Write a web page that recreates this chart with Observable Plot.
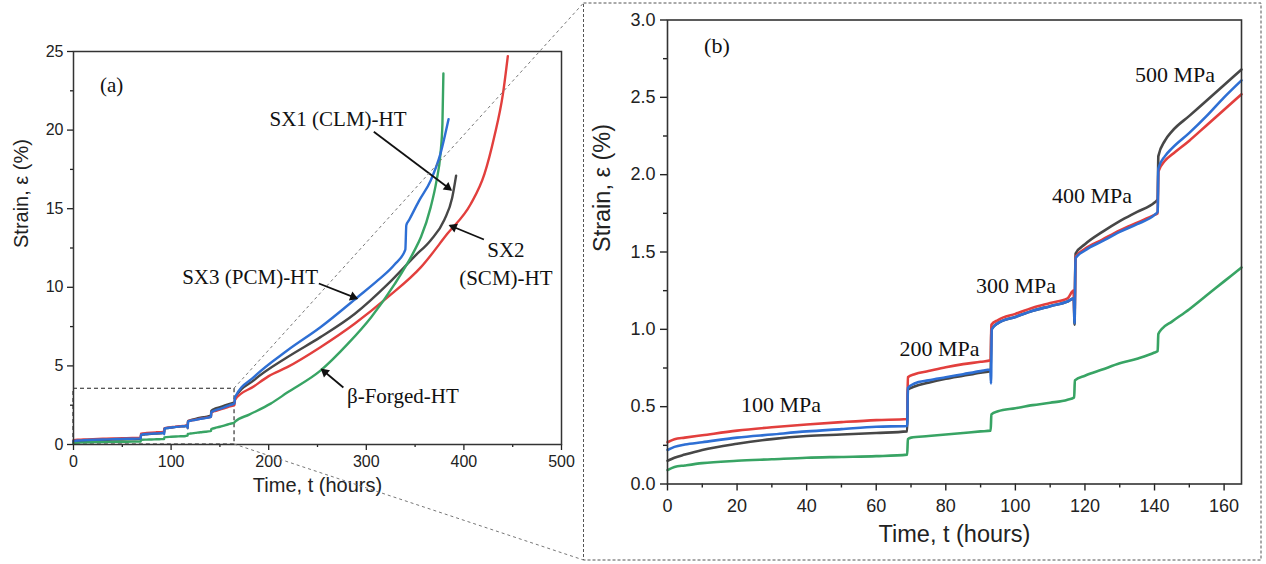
<!DOCTYPE html>
<html><head><meta charset="utf-8">
<script src="https://cdn.jsdelivr.net/npm/d3@7"></script>
<script src="https://cdn.jsdelivr.net/npm/@observablehq/plot@0.6"></script>
<style>
body{margin:0;background:#fff;}
#wrap{position:relative;width:1266px;height:564px;overflow:hidden;background:#fff;}
#a,#b{position:absolute;top:0;}
#a{left:0;} #b{left:583px;}
#ov{position:absolute;left:0;top:0;pointer-events:none;}
</style></head><body>
<div id="wrap"><div id="a"></div><div id="b"></div><svg id="ov" width="1266" height="564"></svg></div>
<script>
// ---------- series names & colours ----------
const names = ["SX1 (CLM)-HT", "SX2 (SCM)-HT", "SX3 (PCM)-HT", "β-Forged-HT"];
const colors = ["#474747", "#e23f3d", "#2e6fd4", "#38a464"];

// ---------- step-load portion (0-165 h), panel (b) ----------
const redT = [0,2,5,10,20,30,40,50,60,68.9, 69.1,71,75,80,85,90,92.9, 93.1,95,100,105,110,115,116.7, 117.0,117.3,120,125,130,135,140,140.9, 141.1,143,145,150,155,160,165];
const redS = [0.27,0.29,0.30,0.315,0.345,0.367,0.385,0.40,0.413,0.42, 0.69,0.71,0.73,0.755,0.775,0.79,0.80, 1.03,1.06,1.10,1.14,1.17,1.20,1.25, 1.08,1.47,1.52,1.58,1.64,1.69,1.74,1.75, 2.02,2.09,2.13,2.22,2.32,2.42,2.52];
const blueT = [0,2,5,10,20,30,40,50,60,68.9, 69.1,71,75,80,85,90,92.8, 93.0,93.2,95,100,105,110,115,116.8, 117.0,117.3,120,125,130,135,140,140.9, 141.1,143,145,150,155,160,165];
const blueS = [0.22,0.24,0.255,0.27,0.30,0.32,0.34,0.355,0.37,0.375, 0.62,0.65,0.67,0.69,0.71,0.73,0.74, 0.65,1.00,1.04,1.08,1.12,1.15,1.18,1.20, 1.04,1.46,1.51,1.57,1.63,1.68,1.74,1.76, 2.04,2.12,2.17,2.27,2.38,2.50,2.61];
const grayT = [0,2,5,10,20,30,40,50,60,68.9, 69.1,71,75,80,85,90,92.9, 93.1,95,100,105,110,115,116.8, 117.0,117.3,120,125,130,135,140,140.9, 141.1,143,145,150,155,160,165];
const grayS = [0.15,0.17,0.19,0.22,0.26,0.29,0.31,0.32,0.33,0.34, 0.61,0.63,0.655,0.68,0.70,0.72,0.73, 1.00,1.04,1.08,1.12,1.15,1.18,1.20, 1.03,1.49,1.55,1.63,1.70,1.76,1.82,1.84, 2.12,2.22,2.28,2.38,2.48,2.58,2.68];
const greenT = [0,2,5,10,20,30,40,50,60,68.9, 69.1,70,75,80,85,90,92.9, 93.1,95,100,105,110,115,116.9, 117.1,120,125,130,135,140,140.9, 141.1,142,145,150,155,160,165];
const greenS = [0.09,0.11,0.12,0.135,0.15,0.16,0.17,0.175,0.18,0.19, 0.29,0.30,0.31,0.32,0.33,0.34,0.345, 0.45,0.47,0.49,0.51,0.525,0.545,0.56, 0.67,0.70,0.74,0.78,0.81,0.85,0.86, 0.97,1.00,1.05,1.13,1.22,1.31,1.40];

// ---------- continuation to rupture (after 165 h), panel (a) ----------
const redTA = [165.5,185,200,219,253,288,322,356,383,407,421,431,440,445];
const redSA = [2.85,3.7,4.35,4.92,6.19,7.68,9.37,11.28,13.4,15.3,17.2,19.55,22.3,24.7];
const blueTA = [165.5,185,219,253,291,312,329,340,341,344,354,366,376,384.3];
const blueSA = [3.0,4.3,5.98,7.46,9.37,10.45,11.45,12.4,13.95,14.3,15.5,16.8,18.5,20.7];
const grayTA = [165.5,185,219,253,288,322,350,366,380,388,392];
const graySA = [2.95,4.1,5.55,6.83,8.3,10.2,12.0,13.0,14.3,15.7,17.1];
const greenTA = [165.5,180,202,219,253,281,305,329,349,356,366,372,376,378,379];
const greenSA = [1.45,1.9,2.6,3.3,4.7,6.4,8.1,10.2,12.3,13.2,15.1,16.8,18.5,20.4,23.6];

// ---------- ticks ----------
const xTicksA = [0,100,200,300,400,500], xMinorA = [50,150,250,350,450];
const yTicksA = [0,5,10,15,20,25], yMinorA = [2.5,7.5,12.5,17.5,22.5];
const xTicksB = [0,20,40,60,80,100,120,140,160], xMinorB = [10,30,50,70,90,110,130,150];
const yTicksB = [0,0.5,1,1.5,2,2.5,3], yMinorB = [0.25,0.75,1.25,1.75,2.25,2.75];

// ---------- annotations ----------
const insetT = [0,165], insetS = [0,3.55];
const annTextA = ["(a)", "SX1 (CLM)-HT", "SX3 (PCM)-HT", "SX2\n(SCM)-HT", "β-Forged-HT"];
const annXA = [39, 271, 181, 443, 337.5];
const annYA = [23.0, 20.8, 10.75, 11.6, 3.18];
const arrX1 = [307.7, 251.4, 420.5, 276.5];
const arrY1 = [19.9, 10.24, 13.04, 3.63];
const arrX2 = [386.7, 290.3, 385.7, 254.4];
const arrY2 = [16.2, 9.29, 13.93, 4.77];
const annTextB = ["(b)", "100 MPa", "200 MPa", "300 MPa", "400 MPa", "500 MPa"];
const annXB = [14.2, 32.6, 78.2, 100.2, 122, 145.9];
const annYB = [2.83, 0.51, 0.873, 1.28, 1.865, 2.647];

const rows = (name, T, S) => T.map((t, i) => ({series: name, t, s: S[i]}));
const sx1 = rows(names[0], grayT, grayS), sx2 = rows(names[1], redT, redS);
const sx3 = rows(names[2], blueT, blueS), bf = rows(names[3], greenT, greenS);
const sx1A = sx1.concat(rows(names[0], grayTA, graySA));
const sx2A = sx2.concat(rows(names[1], redTA, redSA));
const sx3A = sx3.concat(rows(names[2], blueTA, blueSA));
const bfA = bf.concat(rows(names[3], greenTA, greenSA));

const sans = "'Liberation Sans', Arial, Helvetica, sans-serif";
const serif = "'Liberation Serif', 'Times New Roman', serif";
const curve = "monotone-x";

// ---------- panel (a) ----------
const A = {w: 575, h: 520, mL: 73, mR: 14, mT: 51, mB: 76, xd: [0, 500], yd: [0, 25]};
const kx = (A.w - A.mL - A.mR) / (A.xd[1] - A.xd[0]);
const ky = (A.h - A.mT - A.mB) / (A.yd[1] - A.yd[0]);
const arrows = arrX1.map((x1, i) => {
  const x2 = arrX2[i], y2 = arrY2[i];
  const dx = (x2 - x1) * kx, dy = -(arrY2[i] - arrY1[i]) * ky;
  const L = Math.hypot(dx, dy), ux = dx / L, uy = dy / L;
  return {x1, y1: arrY1[i], x2, y2,
    hx: x2 - 4 * ux / kx, hy: y2 + 4 * uy / ky,
    rot: Math.atan2(ux, -uy) * 180 / Math.PI};
});
const annA = annTextA.map((text, i) => ({text, x: annXA[i], y: annYA[i]}));
const lw = 2.4;

const plotA = Plot.plot({
  width: A.w, height: A.h,
  marginLeft: A.mL, marginRight: A.mR, marginTop: A.mT, marginBottom: A.mB,
  x: {domain: A.xd, label: null},
  y: {domain: A.yd, label: null},
  style: {fontFamily: sans, fontSize: "16px", color: "#222", background: "transparent"},
  marks: [
    Plot.rect([{x1: insetT[0], x2: insetT[1], y1: insetS[0], y2: insetS[1]}],
      {x1: "x1", x2: "x2", y1: "y1", y2: "y2", fill: "none", stroke: "#222", strokeWidth: 1.1, strokeDasharray: "4,3"}),
    Plot.line(sx1A, {x: "t", y: "s", stroke: colors[0], strokeWidth: lw, curve}),
    Plot.line(sx2A, {x: "t", y: "s", stroke: colors[1], strokeWidth: lw, curve}),
    Plot.line(bfA, {x: "t", y: "s", stroke: colors[3], strokeWidth: lw, curve}),
    Plot.line(sx3A, {x: "t", y: "s", stroke: colors[2], strokeWidth: lw, curve}),
    Plot.link(arrows, {x1: "x1", y1: "y1", x2: "x2", y2: "y2", stroke: "#111", strokeWidth: 1.8}),
    Plot.dot(arrows, {x: "hx", y: "hy", symbol: "triangle2", r: 4.5, fill: "#111", rotate: "rot"}),
    Plot.text(annA, {x: "x", y: "y", text: "text", fontFamily: serif, fontSize: 21, fill: "#111", lineHeight: 1.3}),
    Plot.axisX({ticks: xTicksA, tickSize: 6, tickPadding: 5, fontSize: 16, strokeWidth: 1.3, label: null}),
    Plot.axisX({ticks: xMinorA, tickSize: 3, tickFormat: () => "", strokeWidth: 1.3, label: null}),
    Plot.axisY({ticks: yTicksA, tickSize: 6, tickPadding: 4, fontSize: 16, strokeWidth: 1.3, label: null}),
    Plot.axisY({ticks: yMinorA, tickSize: 3, tickFormat: () => "", strokeWidth: 1.3, label: null}),
    Plot.frame({stroke: "#333", strokeWidth: 1.5}),
    Plot.text(["Time, t (hours)"], {frameAnchor: "bottom", dy: 47, text: d => d, fontSize: 20, fill: "#222"}),
    Plot.text(["Strain, ε (%)"], {frameAnchor: "left", dx: -52, rotate: -90, text: d => d, fontSize: 20, fill: "#222"})
  ]
});
document.getElementById("a").appendChild(plotA);

// ---------- panel (b) ----------
const annB = annTextB.map((text, i) => ({text, x: annXB[i], y: annYB[i]}));
const lwb = 2.6;
const plotB = Plot.plot({
  width: 680, height: 562,
  marginLeft: 84, marginRight: 22, marginTop: 19.5, marginBottom: 78.5,
  x: {domain: [0, 165], label: null},
  y: {domain: [0, 3], label: null},
  style: {fontFamily: sans, fontSize: "18px", color: "#222", background: "transparent"},
  marks: [
    Plot.line(bf, {x: "t", y: "s", stroke: colors[3], strokeWidth: lwb, curve}),
    Plot.line(sx1, {x: "t", y: "s", stroke: colors[0], strokeWidth: lwb, curve}),
    Plot.line(sx2, {x: "t", y: "s", stroke: colors[1], strokeWidth: lwb, curve}),
    Plot.line(sx3, {x: "t", y: "s", stroke: colors[2], strokeWidth: lwb, curve}),
    Plot.text(annB, {x: "x", y: "y", text: "text", fontFamily: serif, fontSize: 22, fill: "#111"}),
    Plot.axisX({ticks: xTicksB, tickSize: 7, tickPadding: 8, fontSize: 18, strokeWidth: 1.4, label: null}),
    Plot.axisX({ticks: xMinorB, tickSize: 4, tickFormat: () => "", strokeWidth: 1.4, label: null}),
    Plot.axisY({ticks: yTicksB, tickSize: 7, tickPadding: 5, fontSize: 18, strokeWidth: 1.4, tickFormat: d3.format(".1f"), label: null}),
    Plot.axisY({ticks: yMinorB, tickSize: 4, tickFormat: () => "", strokeWidth: 1.4, label: null}),
    Plot.frame({stroke: "#333", strokeWidth: 1.6}),
    Plot.text(["Time, t (hours)"], {frameAnchor: "bottom", dy: 58, text: d => d, fontSize: 23.5, fill: "#222"}),
    Plot.text(["Strain, ε (%)"], {frameAnchor: "left", dx: -65, rotate: -90, text: d => d, fontSize: 23.5, fill: "#222"})
  ]
});
document.getElementById("b").appendChild(plotB);

// ---------- zoom connectors & dashed box ----------
const xa = plotA.scale("x"), ya = plotA.scale("y");
const box = {x: 583.5, y: 3, w: 677.5, h: 557};
const ov = d3.select("#ov");
ov.append("rect").attr("x", box.x).attr("y", box.y).attr("width", box.w).attr("height", box.h)
  .attr("fill", "none").attr("stroke", "#555").attr("stroke-width", 1).attr("stroke-dasharray", "3,2");
const cx = xa.apply(insetT[1]);
ov.append("line").attr("x1", cx).attr("y1", ya.apply(insetS[1])).attr("x2", box.x).attr("y2", box.y)
  .attr("stroke", "#777").attr("stroke-width", 1).attr("stroke-dasharray", "3,3");
ov.append("line").attr("x1", cx).attr("y1", ya.apply(insetS[0])).attr("x2", box.x).attr("y2", box.y + box.h)
  .attr("stroke", "#777").attr("stroke-width", 1).attr("stroke-dasharray", "3,3");
</script>
</body></html>
